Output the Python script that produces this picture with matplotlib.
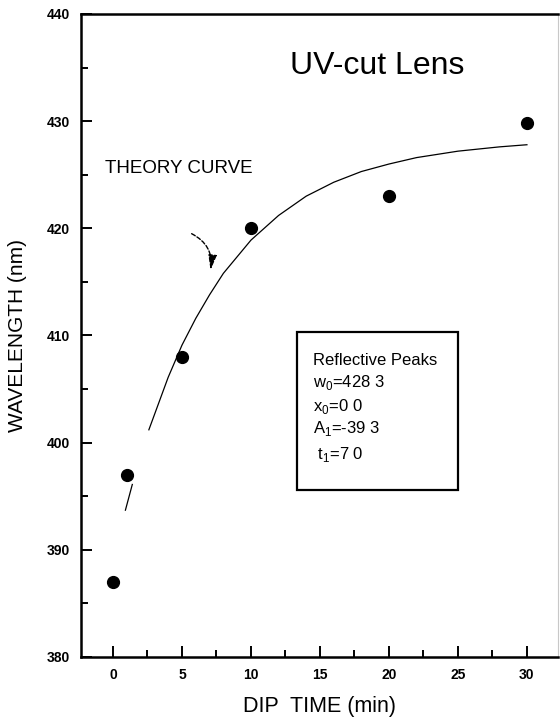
import matplotlib
matplotlib.use('Agg')
import matplotlib.pyplot as plt
from matplotlib.ticker import MultipleLocator
import numpy as np

plt.rcParams['font.family'] = ['Liberation Sans', 'DejaVu Sans']
plt.rcParams['mathtext.fontset'] = 'custom'
plt.rcParams['mathtext.rm'] = 'Liberation Sans'

# measured reflective peaks
dip_time = [0, 1, 5, 10, 20, 30]
wavelength = [387.0, 397.0, 408.0, 420.0, 423.0, 429.8]

# theory curve (gap where the scan lost the line)
curve_x = [0.9, 1.4, np.nan, 2.6, 4, 5, 6, 7, 8, 10, 12, 14, 16, 18, 20, 22, 25, 28, 30]
curve_y = [393.7, 396.1, np.nan, 401.2, 406.1, 409.1, 411.6, 413.8, 415.8, 418.9,
           421.2, 423.0, 424.3, 425.3, 426.0, 426.6, 427.2, 427.6, 427.8]

x_ticks = [0, 5, 10, 15, 20, 25, 30]
y_ticks = [380, 390, 400, 410, 420, 430, 440]

box_lines = ['Reflective Peaks',
             'w$_{\\rm 0}$=428 3',
             'x$_{\\rm 0}$=0 0',
             'A$_{\\rm 1}$=-39 3',
             ' t$_{\\rm 1}$=7 0']

fig = plt.figure(figsize=(5.6, 7.25), dpi=100)
ax = fig.add_axes([0.1446, 0.0938, 0.8518, 0.8869])

ax.plot(curve_x, curve_y, color='black', lw=0.9)
ax.plot(dip_time, wavelength, 'o', color='black', ms=8.5, zorder=3)

ax.set_xlim(-2.32, 32.25)
ax.set_ylim(380, 440)
ax.set_xticks(x_ticks)
ax.set_yticks(y_ticks)
ax.xaxis.set_minor_locator(MultipleLocator(2.5))
ax.yaxis.set_minor_locator(MultipleLocator(5))
ax.tick_params(which='both', direction='in', top=False, right=False, width=1.4)
ax.tick_params(which='major', length=8)
ax.tick_params(which='minor', length=5)
ax.tick_params(axis='y', pad=8)
ax.tick_params(axis='x', pad=8)
for lab in ax.get_xticklabels() + ax.get_yticklabels():
    lab.set_fontweight('bold')
    lab.set_fontsize(10)

for side in ['left', 'bottom', 'top']:
    ax.spines[side].set_linewidth(1.8)
ax.spines['right'].set_linewidth(0.8)
ax.spines['right'].set_color('#c8c8c8')

ax.set_xlabel('DIP  TIME (min)', fontsize=15.5, labelpad=10)
ax.set_ylabel('WAVELENGTH (nm)', fontsize=15, labelpad=14)

ax.text(0.62, 0.919, 'UV-cut Lens', transform=ax.transAxes, fontsize=23,
        ha='center', va='center')
ax.text(-0.6, 425.6, 'THEORY CURVE', fontsize=13.5, ha='left', va='center')

# curved arrow pointing at the theory curve
ax.annotate('', xy=(7.07, 416.1), xytext=(5.7, 419.5),
            arrowprops=dict(arrowstyle='-|>,head_length=0.9,head_width=0.25',
                            connectionstyle='arc3,rad=-0.35', color='black',
                            lw=1.0, linestyle=(0, (3, 1.5)), shrinkA=0, shrinkB=0))

# parameter box
box = plt.Rectangle((297 / 560, 1 - 490 / 725), (458 - 297) / 560, (490 - 332) / 725,
                    transform=fig.transFigure, fill=False, lw=1.6, color='black')
fig.add_artist(box)
line_y = [361, 382, 407, 428, 454]
for txt, yp in zip(box_lines, line_y):
    fig.text(313 / 560, 1 - yp / 725, txt, fontsize=12, ha='left', va='center')

fig.savefig('out.png', dpi=100)
